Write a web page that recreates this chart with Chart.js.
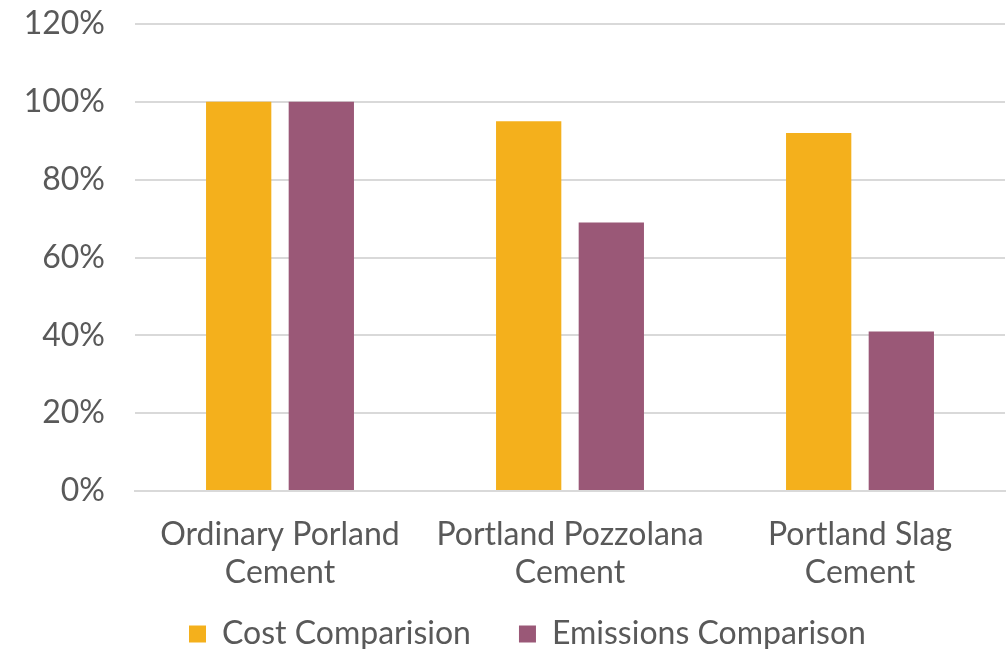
<!DOCTYPE html>
<html>
<head>
<meta charset="utf-8">
<script src="https://cdn.jsdelivr.net/npm/chart.js@4/dist/chart.umd.min.js"></script>
<style>
html,body{margin:0;padding:0;background:#fff;}
#wrap{width:1008px;height:649px;position:relative;}
</style>
</head>
<body>
<div id="wrap"><canvas id="c" width="1008" height="649"></canvas></div>
<script>
const categories = [["Ordinary Porland","Cement"],["Portland Pozzolana","Cement"],["Portland Slag","Cement"]];
const costValues = [100, 95, 92];
const emissionValues = [100, 69, 41];
const seriesNames = ["Cost Comparision", "Emissions Comparison"];
const yTicks = [0, 20, 40, 60, 80, 100, 120];

const txt = '#595959';
const fontFam = 'Lato, "Open Sans", sans-serif';

const legendPlacePlugin = {
  id: 'legendPlace',
  beforeInit(chart) {
    const origFit = chart.legend.fit;
    chart.legend.fit = function () {
      origFit.bind(chart.legend)();
      this.height = 57;
    };
  },
  afterLayout(chart) {
    const lg = chart.legend;
    lg.top = 570;
    lg.left += 25;
    lg.right += 25;
  }
};

new Chart(document.getElementById('c'), {
  type: 'bar',
  plugins: [legendPlacePlugin],
  data: {
    labels: categories,
    datasets: [
      {label: seriesNames[0], data: costValues, backgroundColor: '#F4B01C', categoryPercentage: 0.57, barPercentage: 0.79},
      {label: seriesNames[1], data: emissionValues, backgroundColor: '#9A5877', categoryPercentage: 0.57, barPercentage: 0.79}
    ]
  },
  options: {
    responsive: false,
    animation: false,
    layout: {padding: {top: 24, right: 3, left: 0, bottom: 0}},
    plugins: {
      legend: {
        position: 'bottom',
        labels: {
          color: txt,
          font: {family: fontFam, size: 32},
          boxWidth: 17, boxHeight: 17,
          padding: 48
        }
      },
      tooltip: {enabled: false}
    },
    scales: {
      y: {
        min: 0, max: 120,
        afterBuildTicks: (s) => { s.ticks = yTicks.map(v => ({value: v})); },
        afterFit: (s) => { s.width = 135; s.paddingTop = 0; s.paddingBottom = 0; },
        ticks: {color: txt, font: {family: fontFam, size: 32}, padding: 30, callback: v => v + '%'},
        grid: {color: '#d9d9d9', lineWidth: 2, drawTicks: false},
        border: {display: false}
      },
      x: {
        afterFit: (s) => { s.height = 101; },
        ticks: {color: txt, font: {family: fontFam, size: 32, lineHeight: 1.2}, padding: 24, maxRotation: 0},
        grid: {display: false, drawTicks: false},
        border: {color: '#d9d9d9', width: 2}
      }
    }
  }
});
</script>
</body>
</html>
